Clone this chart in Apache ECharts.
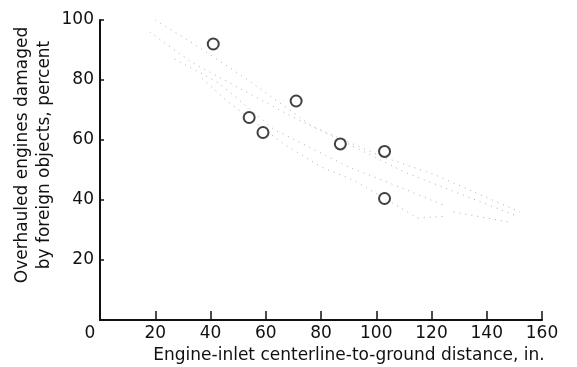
<!DOCTYPE html>
<html>
<head>
<meta charset="utf-8">
<script src="https://cdn.jsdelivr.net/npm/echarts@6/dist/echarts.min.js"></script>
<style>
  html, body { margin: 0; padding: 0; background: #fff; }
  #chart { width: 577px; height: 367px; }
</style>
</head>
<body>
<div id="chart"></div>
<script>
// measured points (distance in., percent damaged)
const points = [[41, 92], [54, 67.5], [59, 62.5], [71, 73], [87, 58.7], [103, 56.2], [103, 40.5]];

// dotted scatter band, read as a few dotted strands
const bandTop = [[20, 100], [34, 92], [52, 81], [77, 64.5], [102, 54.5], [121, 48.5], [152, 36]];
const bandMid1 = [[18, 96], [33, 86], [49, 78], [69, 68], [87, 60], [111, 49], [136, 40], [150, 35]];
const bandMid2 = [[27, 87], [43, 79], [63, 63.5], [90, 51], [112, 43], [125, 38]];
const bandLow = [[37, 80.5], [46, 73], [66, 59], [80, 51], [92, 46.5], [115, 34], [124, 34.5]];
const bandTail = [[128, 36], [140, 34], [149, 32.5]];

const xTicks = [0, 20, 40, 60, 80, 100, 120, 140, 160];
const yTicks = [20, 40, 60, 80, 100];

const font = 'DejaVu Sans';

const bandLine = (data) => ({
  type: 'line',
  data: data,
  symbol: 'none',
  silent: true,
  z: 1,
  lineStyle: { color: '#b0b0b0', width: 1, type: [1, 5] }
});

const chart = echarts.init(document.getElementById('chart'));

chart.setOption({
  animation: false,
  backgroundColor: '#fff',
  grid: { left: 100, right: 35, top: 20, bottom: 47, outerBoundsMode: 'none' },
  xAxis: {
    type: 'value',
    min: 0,
    max: 160,
    interval: 20,
    name: 'Engine-inlet centerline-to-ground distance, in.',
    nameLocation: 'middle',
    nameGap: 27,
    nameTextStyle: { fontFamily: font, fontSize: 17, color: '#111', padding: [0, 0, 0, 56] },
    axisLine: { lineStyle: { color: '#111', width: 2 } },
    axisTick: { inside: true, length: 9, lineStyle: { color: '#111', width: 1.5 } },
    splitLine: { show: false },
    axisLabel: {
      fontFamily: font, fontSize: 17, color: '#111', margin: 5,
      formatter: (v) => xTicks.indexOf(v) === 0 ? '{z|0}' : String(v),
      rich: { z: { fontFamily: font, fontSize: 17, color: '#111', padding: [0, 20, 0, 0] } }
    }
  },
  yAxis: {
    type: 'value',
    min: 0,
    max: 100,
    interval: 20,
    name: 'Overhauled engines damaged\nby foreign objects, percent',
    nameLocation: 'middle',
    nameGap: 44,
    nameMoveOverlap: false,
    nameTextStyle: { fontFamily: font, fontSize: 17, color: '#111', lineHeight: 22, padding: [0, 0, 0, 30] },
    axisLine: { lineStyle: { color: '#111', width: 2 } },
    axisTick: { inside: true, length: 4, lineStyle: { color: '#111', width: 1.5 } },
    splitLine: { show: false },
    axisLabel: {
      fontFamily: font, fontSize: 17, color: '#111', margin: 6,
      formatter: (v) => yTicks.indexOf(v) >= 0 ? String(v) : ''
    }
  },
  series: [
    bandLine(bandTop),
    bandLine(bandMid1),
    bandLine(bandMid2),
    bandLine(bandLow),
    bandLine(bandTail),
    {
      type: 'scatter',
      data: points,
      symbol: 'circle',
      symbolSize: 11,
      z: 3,
      itemStyle: { color: '#fff', borderColor: '#111', borderWidth: 2 }
    }
  ]
});
</script>
</body>
</html>
